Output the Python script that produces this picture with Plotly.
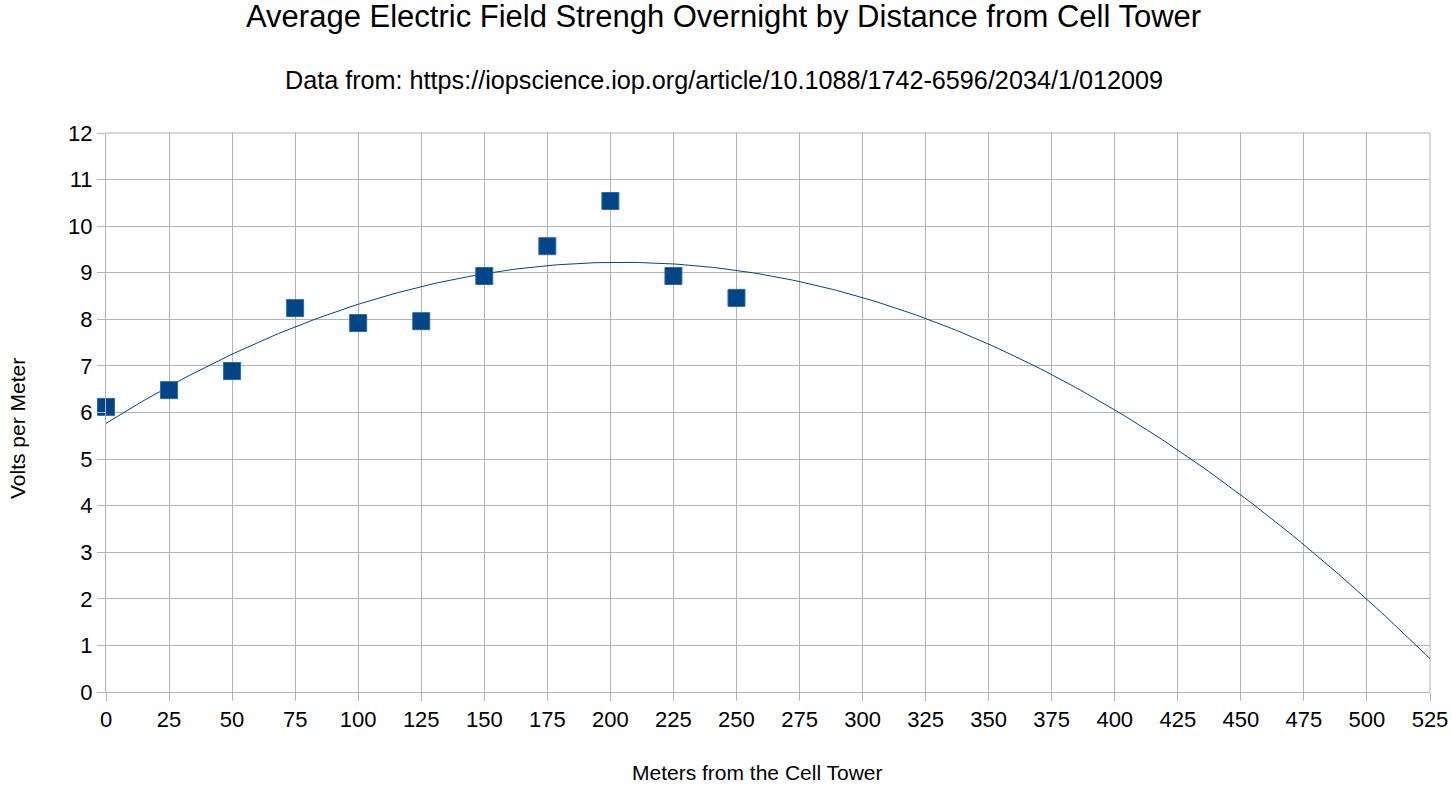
import numpy as np
import plotly.graph_objects as go

distance_m = [0, 25, 50, 75, 100, 125, 150, 175, 200, 225, 250]
volts_per_m = [6.12, 6.48, 6.89, 8.24, 7.92, 7.96, 8.93, 9.57, 10.54, 8.93, 8.46]
x_ticks = list(range(0, 526, 25))
y_ticks = list(range(0, 13))

# polynomial (order 2) trend line fitted to the data
coef = np.polyfit(distance_m, volts_per_m, 2)
xt = np.linspace(0, 525, 300)
yt = np.polyval(coef, xt)

W, H = 1452, 787
ML, MR, MT, MB = 106, 22, 133, 95
plot_h = H - MT - MB
plot_w = W - ML - MR

def ypaper(py):
    return (H - MB - py) / plot_h

def xpaper(px):
    return (px - ML) / plot_w

fig = go.Figure()
fig.add_trace(go.Scatter(x=xt, y=yt, mode="lines", line=dict(color="#004586", width=1),
                         hoverinfo="skip", showlegend=False, cliponaxis=True))
fig.add_trace(go.Scatter(x=distance_m, y=volts_per_m, mode="markers",
                         marker=dict(symbol="square", size=17, color="#004586",
                                     line=dict(color="#2a6aa6", width=1)),
                         showlegend=False, cliponaxis=False))

fig.update_layout(
    width=W, height=H,
    paper_bgcolor="white", plot_bgcolor="white",
    margin=dict(l=ML, r=MR, t=MT, b=MB, autoexpand=False),
    font=dict(family="Liberation Sans, Arial, sans-serif", color="black"),
    annotations=[
        dict(text="Average Electric Field Strengh Overnight by Distance from Cell Tower",
             x=xpaper(723), xref="paper", y=ypaper(17), yref="paper", yanchor="middle",
             showarrow=False, font=dict(size=31, color="black")),
        dict(text="Data from: https://iopscience.iop.org/article/10.1088/1742-6596/2034/1/012009",
             x=xpaper(724), xref="paper", y=ypaper(80), yref="paper", yanchor="middle",
             showarrow=False, font=dict(size=25.2, color="black")),
        dict(text="Meters from the Cell Tower",
             x=xpaper(757), xref="paper", y=ypaper(772), yref="paper", yanchor="middle",
             showarrow=False, font=dict(size=21, color="black")),
        dict(text="Volts per Meter", textangle=-90,
             x=xpaper(17), xref="paper", y=ypaper(429), yref="paper",
             xanchor="center", yanchor="middle",
             showarrow=False, font=dict(size=21, color="black")),
    ],
)

axis_common = dict(
    ticks="outside", ticklen=8, tickcolor="#b3b3b3", tickwidth=1,
    showgrid=True, gridcolor="#b3b3b3", gridwidth=1,
    showline=True, linecolor="#b3b3b3", linewidth=1, zeroline=False,
    tickfont=dict(size=22, color="black"), automargin=False,
)
fig.update_xaxes(range=[0, 525], tickvals=x_ticks, **axis_common)
fig.update_yaxes(range=[0, 12], tickvals=y_ticks, **axis_common)
fig.add_shape(type="line", xref="paper", yref="paper", x0=1, x1=1, y0=0, y1=1,
              line=dict(color="#b3b3b3", width=1), layer="below")
fig.add_shape(type="line", xref="paper", yref="paper", x0=0, x1=1, y0=1, y1=1,
              line=dict(color="#b3b3b3", width=1), layer="below")

fig.write_html("out.html", config={"displayModeBar": False},
               post_script="document.body.style.margin='0px';")
